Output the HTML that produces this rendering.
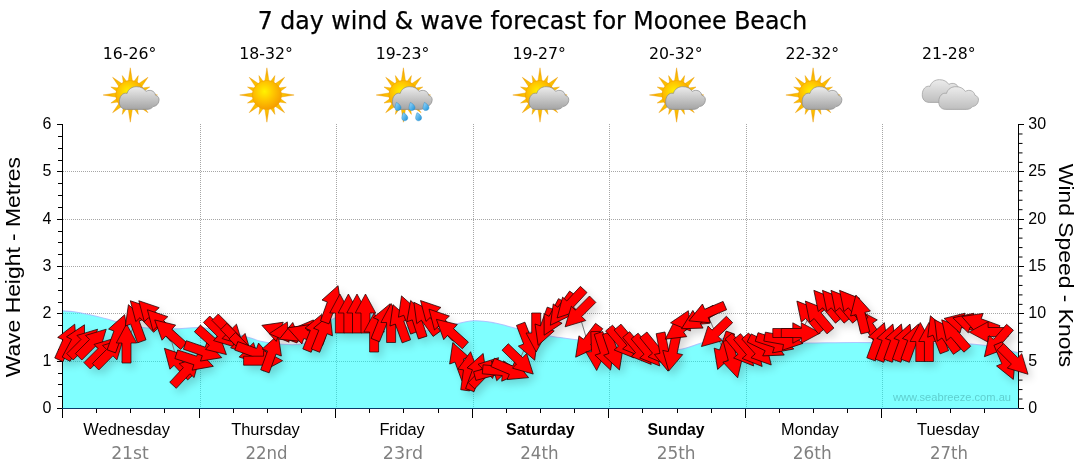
<!DOCTYPE html>
<html lang="en"><head><meta charset="utf-8"><title>7 day wind &amp; wave forecast for Moonee Beach</title>
<style>html,body{margin:0;padding:0;background:#fff;overflow:hidden}svg{display:block}.ar{font-family:"Liberation Sans",sans-serif}.vd{font-family:"DejaVu Sans","Liberation Sans",sans-serif}.vc{font-family:"DejaVu Sans Condensed","DejaVu Sans","Liberation Sans",sans-serif}</style></head><body>
<svg width="1080" height="475" viewBox="0 0 1080 475">
<defs>
<radialGradient id="gsun" cx="0.42" cy="0.38" r="0.65"><stop offset="0" stop-color="#fff200"/><stop offset="0.45" stop-color="#ffc800"/><stop offset="1" stop-color="#f59a00"/></radialGradient>
<radialGradient id="gray" cx="0.5" cy="0.5" r="0.5"><stop offset="0.3" stop-color="#ffd400"/><stop offset="1" stop-color="#f7a300"/></radialGradient>
<linearGradient id="gcl" x1="0" y1="0" x2="0" y2="1"><stop offset="0" stop-color="#ececec"/><stop offset="1" stop-color="#a4a4a4"/></linearGradient>
<linearGradient id="gcl2" x1="0" y1="0" x2="0" y2="1"><stop offset="0" stop-color="#ececec"/><stop offset="1" stop-color="#bebebe"/></linearGradient>
<linearGradient id="gdrop" x1="0" y1="0" x2="1" y2="1"><stop offset="0" stop-color="#9fdcff"/><stop offset="1" stop-color="#1a8fd6"/></linearGradient>
<filter id="sh" x="-5%" y="-20%" width="110%" height="150%"><feGaussianBlur in="SourceAlpha" stdDeviation="4"/><feOffset dx="4" dy="5" result="b"/><feComponentTransfer><feFuncA type="linear" slope="0.17"/></feComponentTransfer></filter>
<filter id="isoft" x="-10%" y="-10%" width="120%" height="120%"><feGaussianBlur stdDeviation="0.35"/></filter>
<path id="a" d="M0,-19.5 L10.2,-0.5 L4.5,-0.5 L4.5,19.5 L-4.5,19.5 L-4.5,-0.5 L-10.2,-0.5 Z"/>
<g id="sun"><path d="M-2.2,-13.3 L0.0,-27.2 L2.2,-13.3 Z M3.3,-13.1 L8.0,-19.4 L6.9,-11.6 Z M7.8,-11.0 L17.7,-17.7 L11.0,-7.8 Z M11.6,-6.9 L19.4,-8.0 L13.1,-3.3 Z M13.3,-2.2 L27.2,0.0 L13.3,2.2 Z M13.1,3.3 L19.4,8.0 L11.6,6.9 Z M11.0,7.8 L17.7,17.7 L7.8,11.0 Z M6.9,11.6 L8.0,19.4 L3.3,13.1 Z M2.2,13.3 L0.0,27.2 L-2.2,13.3 Z M-3.3,13.1 L-8.0,19.4 L-6.9,11.6 Z M-7.8,11.0 L-17.7,17.7 L-11.0,7.8 Z M-11.6,6.9 L-19.4,8.0 L-13.1,3.3 Z M-13.3,2.2 L-27.2,0.0 L-13.3,-2.2 Z M-13.1,-3.3 L-19.4,-8.0 L-11.6,-6.9 Z M-11.0,-7.8 L-17.7,-17.7 L-7.8,-11.0 Z M-6.9,-11.6 L-8.0,-19.4 L-3.3,-13.1 Z" fill="url(#gray)" stroke="#e89a00" stroke-width="0.4"/><circle r="14.6" fill="url(#gsun)" stroke="#f0a000" stroke-width="0.6"/></g>
<path id="cloud" d="M-4,14.4 C-8.5,14.4 -11.2,11 -10.9,6.5 C-11,1.5 -7.5,-2.8 -3.2,-1.6 C-2,-6 2,-8.4 6.2,-8.3 C10.5,-8.4 14,-6.4 15.6,-3.6 C19.6,-6 24.6,-4 25.2,0.2 C28,1 29.2,3.6 28.7,5.6 C28.4,9 25.6,11.4 22.8,11.6 C21.4,13.6 19,14.4 16.6,14.4 Z"/>
<path id="drop" d="M-1.6,-3.6 C0.8,-2.6 3,-0.2 3,1.6 C3,3.4 1.6,4.6 -0.2,4.6 C-2,4.6 -3.2,3.2 -3,1.4 C-2.9,-0.2 -2.2,-2 -1.6,-3.6 Z" fill="url(#gdrop)" stroke="#1b86c8" stroke-width="0.4"/>
</defs>
<rect width="1080" height="475" fill="#fff"/>
<text class="vc" x="532.6" y="28.7" font-size="25.5" text-anchor="middle" textLength="549.5" stroke="#000" stroke-width="0.25" lengthAdjust="spacingAndGlyphs" fill="#000">7 day wind &amp; wave forecast for Moonee Beach</text>
<text class="vd" x="129.5" y="58.8" font-size="15.3" text-anchor="middle" textLength="53.6" lengthAdjust="spacingAndGlyphs" fill="#000">16-26°</text>
<g transform="translate(130.3,95.0)" filter="url(#isoft)"><use href="#sun"/><use href="#cloud" fill="url(#gcl)" stroke="#8a8a8a" stroke-width="0.7"/></g>
<text class="vd" x="266.1" y="58.8" font-size="15.3" text-anchor="middle" textLength="53.6" lengthAdjust="spacingAndGlyphs" fill="#000">18-32°</text>
<g transform="translate(266.9,95.0)" filter="url(#isoft)"><use href="#sun"/></g>
<text class="vd" x="402.6" y="58.8" font-size="15.3" text-anchor="middle" textLength="53.6" lengthAdjust="spacingAndGlyphs" fill="#000">19-23°</text>
<g transform="translate(403.4,95.0)" filter="url(#isoft)"><use href="#sun"/><use href="#cloud" fill="url(#gcl)" stroke="#8a8a8a" stroke-width="0.7"/><use href="#drop" x="-5.4" y="11.0"/><use href="#drop" x="8.6" y="11.0"/><use href="#drop" x="22.6" y="11.0"/><use href="#drop" x="1.4" y="21.2"/><use href="#drop" x="15.2" y="21.2"/></g>
<text class="vd" x="539.2" y="58.8" font-size="15.3" text-anchor="middle" textLength="53.6" lengthAdjust="spacingAndGlyphs" fill="#000">19-27°</text>
<g transform="translate(540.0,95.0)" filter="url(#isoft)"><use href="#sun"/><use href="#cloud" fill="url(#gcl)" stroke="#8a8a8a" stroke-width="0.7"/></g>
<text class="vd" x="675.8" y="58.8" font-size="15.3" text-anchor="middle" textLength="53.6" lengthAdjust="spacingAndGlyphs" fill="#000">20-32°</text>
<g transform="translate(676.6,95.0)" filter="url(#isoft)"><use href="#sun"/><use href="#cloud" fill="url(#gcl)" stroke="#8a8a8a" stroke-width="0.7"/></g>
<text class="vd" x="812.3" y="58.8" font-size="15.3" text-anchor="middle" textLength="53.6" lengthAdjust="spacingAndGlyphs" fill="#000">22-32°</text>
<g transform="translate(813.1,95.0)" filter="url(#isoft)"><use href="#sun"/><use href="#cloud" fill="url(#gcl)" stroke="#8a8a8a" stroke-width="0.7"/></g>
<text class="vd" x="948.9" y="58.8" font-size="15.3" text-anchor="middle" textLength="53.6" lengthAdjust="spacingAndGlyphs" fill="#000">21-28°</text>
<g transform="translate(949.7,95.0)" filter="url(#isoft)"><use href="#cloud" x="-16.5" y="-7" fill="url(#gcl2)" stroke="#9a9a9a" stroke-width="0.7"/><use href="#cloud" fill="url(#gcl2)" stroke="#9a9a9a" stroke-width="0.7"/></g>
<g stroke="#a6a6a6" stroke-width="1" stroke-dasharray="1 1" fill="none" shape-rendering="crispEdges">
<path d="M63,361.5 H1018"/>
<path d="M63,313.5 H1018"/>
<path d="M63,266.5 H1018"/>
<path d="M63,219.5 H1018"/>
<path d="M63,171.5 H1018"/>
<path d="M200.5,124 V408"/>
<path d="M336.5,124 V408"/>
<path d="M473.5,124 V408"/>
<path d="M609.5,124 V408"/>
<path d="M746.5,124 V408"/>
<path d="M882.5,124 V408"/>
</g>
<path d="M62.5,310.8 C64.1,310.9 69.1,311.2 72.0,311.5 C74.9,311.8 76.0,312.0 80.0,312.8 C84.0,313.6 91.6,315.2 96.3,316.3 C101.0,317.4 104.0,318.2 108.0,319.3 C112.0,320.4 116.0,321.7 120.0,322.8 C124.0,323.9 127.8,325.0 132.0,325.8 C136.2,326.6 140.3,327.3 145.0,327.8 C149.7,328.3 154.8,328.6 160.0,328.8 C165.2,329.0 169.3,329.0 176.0,328.8 C182.7,328.6 192.7,327.2 200.0,327.5 C207.3,327.8 213.0,329.2 220.0,330.5 C227.0,331.8 235.0,333.7 242.0,335.5 C249.0,337.3 255.3,340.0 262.0,341.5 C268.7,343.0 275.7,343.8 282.0,344.3 C288.3,344.8 295.0,345.0 300.0,344.3 C305.0,343.6 308.3,342.4 312.0,340.0 C315.7,337.6 318.7,333.4 322.0,330.0 C325.3,326.6 328.2,322.0 332.0,319.5 C335.8,317.0 340.3,316.0 345.0,315.0 C349.7,314.0 355.7,313.7 360.0,313.5 C364.3,313.3 366.8,313.2 371.0,314.0 C375.2,314.8 380.2,316.2 385.0,318.0 C389.8,319.8 395.5,322.7 400.0,324.5 C404.5,326.3 407.8,327.9 412.0,329.0 C416.2,330.1 420.7,330.8 425.0,330.8 C429.3,330.8 433.8,329.9 438.0,329.0 C442.2,328.1 444.0,326.9 450.0,325.5 C456.0,324.1 466.5,321.2 474.0,320.8 C481.5,320.4 488.2,321.8 495.0,323.0 C501.8,324.2 507.9,326.3 514.6,328.0 C521.3,329.7 528.7,331.6 535.0,333.0 C541.3,334.4 546.2,335.5 552.5,336.5 C558.8,337.5 564.9,338.1 572.8,339.2 C580.7,340.3 590.5,341.7 600.0,343.0 C609.5,344.3 620.0,345.8 630.0,347.0 C640.0,348.2 651.5,349.6 660.0,350.0 C668.5,350.4 674.1,350.5 681.0,349.3 C687.9,348.1 694.8,344.8 701.6,343.0 C708.4,341.2 714.6,339.2 721.8,338.5 C729.0,337.8 737.0,338.5 745.0,339.0 C753.0,339.5 760.8,340.8 770.0,341.5 C779.2,342.2 785.8,342.8 800.0,343.0 C814.2,343.2 835.0,342.5 855.0,342.5 C875.0,342.5 900.2,342.7 920.0,343.0 C939.8,343.3 960.7,343.4 974.0,344.3 C987.3,345.2 992.6,347.1 1000.0,348.5 C1007.4,349.9 1015.4,352.2 1018.5,353.0 L1018.5,408.5 L62.5,408.5 Z" fill="#00ffff" fill-opacity="0.5"/>
<path d="M62.5,310.8 C64.1,310.9 69.1,311.2 72.0,311.5 C74.9,311.8 76.0,312.0 80.0,312.8 C84.0,313.6 91.6,315.2 96.3,316.3 C101.0,317.4 104.0,318.2 108.0,319.3 C112.0,320.4 116.0,321.7 120.0,322.8 C124.0,323.9 127.8,325.0 132.0,325.8 C136.2,326.6 140.3,327.3 145.0,327.8 C149.7,328.3 154.8,328.6 160.0,328.8 C165.2,329.0 169.3,329.0 176.0,328.8 C182.7,328.6 192.7,327.2 200.0,327.5 C207.3,327.8 213.0,329.2 220.0,330.5 C227.0,331.8 235.0,333.7 242.0,335.5 C249.0,337.3 255.3,340.0 262.0,341.5 C268.7,343.0 275.7,343.8 282.0,344.3 C288.3,344.8 295.0,345.0 300.0,344.3 C305.0,343.6 308.3,342.4 312.0,340.0 C315.7,337.6 318.7,333.4 322.0,330.0 C325.3,326.6 328.2,322.0 332.0,319.5 C335.8,317.0 340.3,316.0 345.0,315.0 C349.7,314.0 355.7,313.7 360.0,313.5 C364.3,313.3 366.8,313.2 371.0,314.0 C375.2,314.8 380.2,316.2 385.0,318.0 C389.8,319.8 395.5,322.7 400.0,324.5 C404.5,326.3 407.8,327.9 412.0,329.0 C416.2,330.1 420.7,330.8 425.0,330.8 C429.3,330.8 433.8,329.9 438.0,329.0 C442.2,328.1 444.0,326.9 450.0,325.5 C456.0,324.1 466.5,321.2 474.0,320.8 C481.5,320.4 488.2,321.8 495.0,323.0 C501.8,324.2 507.9,326.3 514.6,328.0 C521.3,329.7 528.7,331.6 535.0,333.0 C541.3,334.4 546.2,335.5 552.5,336.5 C558.8,337.5 564.9,338.1 572.8,339.2 C580.7,340.3 590.5,341.7 600.0,343.0 C609.5,344.3 620.0,345.8 630.0,347.0 C640.0,348.2 651.5,349.6 660.0,350.0 C668.5,350.4 674.1,350.5 681.0,349.3 C687.9,348.1 694.8,344.8 701.6,343.0 C708.4,341.2 714.6,339.2 721.8,338.5 C729.0,337.8 737.0,338.5 745.0,339.0 C753.0,339.5 760.8,340.8 770.0,341.5 C779.2,342.2 785.8,342.8 800.0,343.0 C814.2,343.2 835.0,342.5 855.0,342.5 C875.0,342.5 900.2,342.7 920.0,343.0 C939.8,343.3 960.7,343.4 974.0,344.3 C987.3,345.2 992.6,347.1 1000.0,348.5 C1007.4,349.9 1015.4,352.2 1018.5,353.0" fill="none" stroke="#a9b6ff" stroke-width="1.1" stroke-opacity="0.8"/>
<text class="ar" x="952" y="400.6" font-size="11" text-anchor="middle" textLength="118" lengthAdjust="spacingAndGlyphs" fill="#5fcfcf">www.seabreeze.com.au</text>
<g stroke="#000" stroke-width="1" fill="none" shape-rendering="crispEdges">
<path d="M62.5,124 V417"/>
<path d="M1018.5,124 V409"/>
<path d="M57,408.5 H63"/>
<path d="M58,396.5 H63"/>
<path d="M58,384.5 H63"/>
<path d="M58,373.5 H63"/>
<path d="M57,361.5 H63"/>
<path d="M58,349.5 H63"/>
<path d="M58,337.5 H63"/>
<path d="M58,325.5 H63"/>
<path d="M57,313.5 H63"/>
<path d="M58,302.5 H63"/>
<path d="M58,290.5 H63"/>
<path d="M58,278.5 H63"/>
<path d="M57,266.5 H63"/>
<path d="M58,254.5 H63"/>
<path d="M58,242.5 H63"/>
<path d="M58,231.5 H63"/>
<path d="M57,219.5 H63"/>
<path d="M58,207.5 H63"/>
<path d="M58,195.5 H63"/>
<path d="M58,183.5 H63"/>
<path d="M57,171.5 H63"/>
<path d="M58,160.5 H63"/>
<path d="M58,148.5 H63"/>
<path d="M58,136.5 H63"/>
<path d="M57,124.5 H63"/>
<path d="M1018,408.5 H1024"/>
<path d="M1018,361.5 H1024"/>
<path d="M1018,313.5 H1024"/>
<path d="M1018,266.5 H1024"/>
<path d="M1018,219.5 H1024"/>
<path d="M1018,171.5 H1024"/>
<path d="M1018,124.5 H1024"/>
</g>
<g stroke="#000" stroke-width="1" fill="none">
<path d="M1018,399.03 H1022.5"/>
<path d="M1018,389.57 H1022.5"/>
<path d="M1018,380.10 H1022.5"/>
<path d="M1018,370.63 H1022.5"/>
<path d="M1018,351.70 H1022.5"/>
<path d="M1018,342.23 H1022.5"/>
<path d="M1018,332.77 H1022.5"/>
<path d="M1018,323.30 H1022.5"/>
<path d="M1018,304.37 H1022.5"/>
<path d="M1018,294.90 H1022.5"/>
<path d="M1018,285.43 H1022.5"/>
<path d="M1018,275.97 H1022.5"/>
<path d="M1018,257.03 H1022.5"/>
<path d="M1018,247.57 H1022.5"/>
<path d="M1018,238.10 H1022.5"/>
<path d="M1018,228.63 H1022.5"/>
<path d="M1018,209.70 H1022.5"/>
<path d="M1018,200.23 H1022.5"/>
<path d="M1018,190.77 H1022.5"/>
<path d="M1018,181.30 H1022.5"/>
<path d="M1018,162.37 H1022.5"/>
<path d="M1018,152.90 H1022.5"/>
<path d="M1018,143.43 H1022.5"/>
<path d="M1018,133.97 H1022.5"/>
</g>
<path d="M62,408.5 H1019" stroke="#0b3b6b" stroke-width="1" shape-rendering="crispEdges"/>
<g stroke="#000" stroke-width="1" fill="none" shape-rendering="crispEdges">
<path d="M62.5,409 V418"/>
<path d="M96.5,409 V413"/>
<path d="M130.5,409 V413"/>
<path d="M164.5,409 V413"/>
<path d="M199.5,409 V418"/>
<path d="M233.5,409 V413"/>
<path d="M267.5,409 V413"/>
<path d="M301.5,409 V413"/>
<path d="M335.5,409 V418"/>
<path d="M369.5,409 V413"/>
<path d="M403.5,409 V413"/>
<path d="M438.5,409 V413"/>
<path d="M472.5,409 V418"/>
<path d="M506.5,409 V413"/>
<path d="M540.5,409 V413"/>
<path d="M574.5,409 V413"/>
<path d="M608.5,409 V418"/>
<path d="M642.5,409 V413"/>
<path d="M677.5,409 V413"/>
<path d="M711.5,409 V413"/>
<path d="M745.5,409 V418"/>
<path d="M779.5,409 V413"/>
<path d="M813.5,409 V413"/>
<path d="M847.5,409 V413"/>
<path d="M881.5,409 V418"/>
<path d="M916.5,409 V413"/>
<path d="M950.5,409 V413"/>
<path d="M984.5,409 V413"/>
</g>
<g class="ar" font-size="16" fill="#000">
<text x="51.3" y="412.8" text-anchor="end">0</text>
<text x="51.3" y="365.5" text-anchor="end">1</text>
<text x="51.3" y="318.1" text-anchor="end">2</text>
<text x="51.3" y="270.8" text-anchor="end">3</text>
<text x="51.3" y="223.5" text-anchor="end">4</text>
<text x="51.3" y="176.1" text-anchor="end">5</text>
<text x="51.3" y="128.8" text-anchor="end">6</text>
<text x="1028.3" y="412.8">0</text>
<text x="1028.3" y="365.5">5</text>
<text x="1028.3" y="318.1">10</text>
<text x="1028.3" y="270.8">15</text>
<text x="1028.3" y="223.5">20</text>
<text x="1028.3" y="176.1">25</text>
<text x="1028.3" y="128.8">30</text>
</g>
<text class="ar" font-size="21" fill="#000" text-anchor="middle" transform="translate(20.2,267.2) rotate(-90)" textLength="220.3" lengthAdjust="spacingAndGlyphs">Wave Height - Metres</text>
<text class="ar" font-size="21" fill="#000" text-anchor="middle" transform="translate(1059.2,265.5) rotate(90)" textLength="203.3" lengthAdjust="spacingAndGlyphs">Wind Speed - Knots</text>
<text class="ar" x="126.6" y="434.7" font-size="16" text-anchor="middle" textLength="86.5" lengthAdjust="spacingAndGlyphs" fill="#000">Wednesday</text>
<text class="vd" x="130.0" y="458.8" font-size="17.2" text-anchor="middle" textLength="37.7" lengthAdjust="spacingAndGlyphs" fill="#808080">21st</text>
<text class="ar" x="265.5" y="434.7" font-size="16" text-anchor="middle" textLength="68.7" lengthAdjust="spacingAndGlyphs" fill="#000">Thursday</text>
<text class="vd" x="266.5" y="458.8" font-size="17.2" text-anchor="middle" textLength="42.2" lengthAdjust="spacingAndGlyphs" fill="#808080">22nd</text>
<text class="ar" x="402.1" y="434.7" font-size="16" text-anchor="middle" textLength="45.4" lengthAdjust="spacingAndGlyphs" fill="#000">Friday</text>
<text class="vd" x="402.9" y="458.8" font-size="17.2" text-anchor="middle" textLength="40.2" lengthAdjust="spacingAndGlyphs" fill="#808080">23rd</text>
<text class="ar" x="540.3" y="434.7" font-size="16" text-anchor="middle" textLength="68.7" lengthAdjust="spacingAndGlyphs" fill="#000" font-weight="bold">Saturday</text>
<text class="vd" x="539.4" y="458.8" font-size="17.2" text-anchor="middle" textLength="38.4" lengthAdjust="spacingAndGlyphs" fill="#808080">24th</text>
<text class="ar" x="676.1" y="434.7" font-size="16" text-anchor="middle" textLength="57.0" lengthAdjust="spacingAndGlyphs" fill="#000" font-weight="bold">Sunday</text>
<text class="vd" x="676.1" y="458.8" font-size="17.2" text-anchor="middle" textLength="38.9" lengthAdjust="spacingAndGlyphs" fill="#808080">25th</text>
<text class="ar" x="810.0" y="434.7" font-size="16" text-anchor="middle" textLength="57.8" lengthAdjust="spacingAndGlyphs" fill="#000">Monday</text>
<text class="vd" x="812.2" y="458.8" font-size="17.2" text-anchor="middle" textLength="38.9" lengthAdjust="spacingAndGlyphs" fill="#808080">26th</text>
<text class="ar" x="948.2" y="434.7" font-size="16" text-anchor="middle" textLength="62.4" lengthAdjust="spacingAndGlyphs" fill="#000">Tuesday</text>
<text class="vd" x="949.0" y="458.8" font-size="17.2" text-anchor="middle" textLength="38.0" lengthAdjust="spacingAndGlyphs" fill="#808080">27th</text>
<polyline points="66.8,342.0 75.3,342.0 83.8,343.0 92.4,343.0 100.9,352.0 109.4,353.0 118.0,333.0 126.5,343.5 135.1,323.0 143.6,315.0 152.1,315.0 160.7,324.0 169.2,333.0 177.7,362.6 186.3,371.0 194.8,360.3 203.3,351.3 211.9,341.5 220.4,333.0 228.9,331.0 237.5,340.3 246.0,349.5 254.6,352.5 263.1,360.7 271.6,353.0 280.2,332.0 288.7,332.0 297.2,331.7 305.8,334.5 314.3,332.5 322.8,332.5 331.4,304.0 339.9,313.5 348.4,313.5 357.0,313.5 365.5,313.5 374.1,332.5 382.6,322.0 391.1,323.0 399.7,323.0 408.2,314.2 416.7,319.0 425.3,318.0 433.8,314.8 442.3,323.4 450.9,332.4 459.4,361.0 467.9,371.0 476.5,371.8 485.0,371.7 493.6,371.0 502.1,371.0 510.6,370.0 519.2,360.5 527.7,342.0 536.2,332.5 544.8,327.0 553.3,318.0 561.8,309.5 570.4,303.7 578.9,313.0 587.4,341.6 596.0,351.0 604.5,351.5 613.1,351.5 621.6,343.0 630.1,342.0 638.7,349.5 647.2,351.0 655.7,350.0 664.3,352.0 672.8,352.0 681.3,328.0 689.9,320.8 698.4,319.0 706.9,313.2 715.5,333.0 724.0,351.0 732.6,359.0 741.1,351.0 749.6,351.5 758.2,350.5 766.7,346.5 775.2,343.0 783.8,340.0 792.3,333.0 800.8,333.0 809.4,316.0 817.9,316.0 826.4,305.3 835.0,305.3 843.5,305.3 852.1,305.3 860.6,314.0 869.1,326.0 877.7,341.0 886.2,342.4 894.7,342.4 903.3,342.4 911.8,342.4 920.3,342.0 928.9,342.0 937.4,334.0 945.9,335.8 954.5,334.5 963.0,323.2 971.6,323.2 980.1,323.2 988.6,332.0 997.2,342.0 1005.7,361.5 1014.2,360.5" fill="none" stroke="#808080" stroke-width="1"/>
<g filter="url(#sh)"><use href="#a" transform="translate(66.8,342.0) rotate(24)"/><use href="#a" transform="translate(75.3,342.0) rotate(28)"/><use href="#a" transform="translate(83.8,343.0) rotate(45)"/><use href="#a" transform="translate(92.4,343.0) rotate(45)"/><use href="#a" transform="translate(100.9,352.0) rotate(45)"/><use href="#a" transform="translate(109.4,353.0) rotate(45)"/><use href="#a" transform="translate(118.0,333.0) rotate(20)"/><use href="#a" transform="translate(126.5,343.5) rotate(0)"/><use href="#a" transform="translate(135.1,323.0) rotate(-20)"/><use href="#a" transform="translate(143.6,315.0) rotate(-43)"/><use href="#a" transform="translate(152.1,315.0) rotate(-43)"/><use href="#a" transform="translate(160.7,324.0) rotate(-43)"/><use href="#a" transform="translate(169.2,333.0) rotate(-48)"/><use href="#a" transform="translate(177.7,362.6) rotate(-43)"/><use href="#a" transform="translate(186.3,371.0) rotate(43)"/><use href="#a" transform="translate(194.8,360.3) rotate(108)"/><use href="#a" transform="translate(203.3,351.3) rotate(109)"/><use href="#a" transform="translate(211.9,341.5) rotate(132)"/><use href="#a" transform="translate(220.4,333.0) rotate(135)"/><use href="#a" transform="translate(228.9,331.0) rotate(135)"/><use href="#a" transform="translate(237.5,340.3) rotate(135)"/><use href="#a" transform="translate(246.0,349.5) rotate(135)"/><use href="#a" transform="translate(254.6,352.5) rotate(110)"/><use href="#a" transform="translate(263.1,360.7) rotate(90)"/><use href="#a" transform="translate(271.6,353.0) rotate(20)"/><use href="#a" transform="translate(280.2,332.0) rotate(-70)"/><use href="#a" transform="translate(288.7,332.0) rotate(-95)"/><use href="#a" transform="translate(297.2,331.7) rotate(-113)"/><use href="#a" transform="translate(305.8,334.5) rotate(-70)"/><use href="#a" transform="translate(314.3,332.5) rotate(22)"/><use href="#a" transform="translate(322.8,332.5) rotate(22)"/><use href="#a" transform="translate(331.4,304.0) rotate(20)"/><use href="#a" transform="translate(339.9,313.5) rotate(0)"/><use href="#a" transform="translate(348.4,313.5) rotate(0)"/><use href="#a" transform="translate(357.0,313.5) rotate(0)"/><use href="#a" transform="translate(365.5,313.5) rotate(0)"/><use href="#a" transform="translate(374.1,332.5) rotate(0)"/><use href="#a" transform="translate(382.6,322.0) rotate(22)"/><use href="#a" transform="translate(391.1,323.0) rotate(0)"/><use href="#a" transform="translate(399.7,323.0) rotate(-20)"/><use href="#a" transform="translate(408.2,314.2) rotate(-20)"/><use href="#a" transform="translate(416.7,319.0) rotate(-18)"/><use href="#a" transform="translate(425.3,318.0) rotate(-36)"/><use href="#a" transform="translate(433.8,314.8) rotate(-43)"/><use href="#a" transform="translate(442.3,323.4) rotate(-43)"/><use href="#a" transform="translate(459.4,361.0) rotate(-20)"/><use href="#a" transform="translate(450.9,332.4) rotate(-48)"/><use href="#a" transform="translate(467.9,371.0) rotate(8)"/><use href="#a" transform="translate(476.5,371.8) rotate(20)"/><use href="#a" transform="translate(485.0,371.7) rotate(44)"/><use href="#a" transform="translate(493.6,371.0) rotate(75)"/><use href="#a" transform="translate(502.1,371.0) rotate(95)"/><use href="#a" transform="translate(510.6,370.0) rotate(113)"/><use href="#a" transform="translate(519.2,360.5) rotate(134)"/><use href="#a" transform="translate(527.7,342.0) rotate(159)"/><use href="#a" transform="translate(536.2,332.5) rotate(180)"/><use href="#a" transform="translate(544.8,327.0) rotate(200)"/><use href="#a" transform="translate(553.3,318.0) rotate(208)"/><use href="#a" transform="translate(561.8,309.5) rotate(216)"/><use href="#a" transform="translate(570.4,303.7) rotate(223)"/><use href="#a" transform="translate(578.9,313.0) rotate(225)"/><use href="#a" transform="translate(587.4,341.6) rotate(217)"/><use href="#a" transform="translate(596.0,351.0) rotate(178)"/><use href="#a" transform="translate(604.5,351.5) rotate(162)"/><use href="#a" transform="translate(613.1,351.5) rotate(161)"/><use href="#a" transform="translate(621.6,343.0) rotate(140)"/><use href="#a" transform="translate(630.1,342.0) rotate(140)"/><use href="#a" transform="translate(638.7,349.5) rotate(140)"/><use href="#a" transform="translate(647.2,351.0) rotate(140)"/><use href="#a" transform="translate(655.7,350.0) rotate(141)"/><use href="#a" transform="translate(664.3,352.0) rotate(169)"/><use href="#a" transform="translate(672.8,352.0) rotate(192)"/><use href="#a" transform="translate(681.3,328.0) rotate(235)"/><use href="#a" transform="translate(689.9,320.8) rotate(264)"/><use href="#a" transform="translate(698.4,319.0) rotate(240)"/><use href="#a" transform="translate(706.9,313.2) rotate(247)"/><use href="#a" transform="translate(715.5,333.0) rotate(226)"/><use href="#a" transform="translate(724.0,351.0) rotate(199)"/><use href="#a" transform="translate(732.6,359.0) rotate(165)"/><use href="#a" transform="translate(741.1,351.0) rotate(140)"/><use href="#a" transform="translate(749.6,351.5) rotate(140)"/><use href="#a" transform="translate(758.2,350.5) rotate(138)"/><use href="#a" transform="translate(766.7,346.5) rotate(116)"/><use href="#a" transform="translate(775.2,343.0) rotate(108)"/><use href="#a" transform="translate(783.8,340.0) rotate(100)"/><use href="#a" transform="translate(792.3,333.0) rotate(90)"/><use href="#a" transform="translate(800.8,333.0) rotate(90)"/><use href="#a" transform="translate(809.4,316.0) rotate(-40)"/><use href="#a" transform="translate(817.9,316.0) rotate(-40)"/><use href="#a" transform="translate(826.4,305.3) rotate(-40)"/><use href="#a" transform="translate(835.0,305.3) rotate(-40)"/><use href="#a" transform="translate(843.5,305.3) rotate(-40)"/><use href="#a" transform="translate(869.1,326.0) rotate(-34)"/><use href="#a" transform="translate(852.1,305.3) rotate(-40)"/><use href="#a" transform="translate(860.6,314.0) rotate(-14)"/><use href="#a" transform="translate(877.7,341.0) rotate(20)"/><use href="#a" transform="translate(886.2,342.4) rotate(20)"/><use href="#a" transform="translate(894.7,342.4) rotate(20)"/><use href="#a" transform="translate(903.3,342.4) rotate(20)"/><use href="#a" transform="translate(911.8,342.4) rotate(20)"/><use href="#a" transform="translate(920.3,342.0) rotate(0)"/><use href="#a" transform="translate(928.9,342.0) rotate(0)"/><use href="#a" transform="translate(937.4,334.0) rotate(-21)"/><use href="#a" transform="translate(945.9,335.8) rotate(-35)"/><use href="#a" transform="translate(954.5,334.5) rotate(-41)"/><use href="#a" transform="translate(963.0,323.2) rotate(-76)"/><use href="#a" transform="translate(971.6,323.2) rotate(-74)"/><use href="#a" transform="translate(980.1,323.2) rotate(-70)"/><use href="#a" transform="translate(988.6,332.0) rotate(-90)"/><use href="#a" transform="translate(997.2,342.0) rotate(221)"/><use href="#a" transform="translate(1005.7,361.5) rotate(157)"/><use href="#a" transform="translate(1014.2,360.5) rotate(135)"/></g>
<g fill="#ff0000" stroke="#1c0000" stroke-width="0.7" stroke-linejoin="miter"><use href="#a" transform="translate(66.8,342.0) rotate(24)"/><use href="#a" transform="translate(75.3,342.0) rotate(28)"/><use href="#a" transform="translate(83.8,343.0) rotate(45)"/><use href="#a" transform="translate(92.4,343.0) rotate(45)"/><use href="#a" transform="translate(100.9,352.0) rotate(45)"/><use href="#a" transform="translate(109.4,353.0) rotate(45)"/><use href="#a" transform="translate(118.0,333.0) rotate(20)"/><use href="#a" transform="translate(126.5,343.5) rotate(0)"/><use href="#a" transform="translate(135.1,323.0) rotate(-20)"/><use href="#a" transform="translate(143.6,315.0) rotate(-43)"/><use href="#a" transform="translate(152.1,315.0) rotate(-43)"/><use href="#a" transform="translate(160.7,324.0) rotate(-43)"/><use href="#a" transform="translate(169.2,333.0) rotate(-48)"/><use href="#a" transform="translate(177.7,362.6) rotate(-43)"/><use href="#a" transform="translate(186.3,371.0) rotate(43)"/><use href="#a" transform="translate(194.8,360.3) rotate(108)"/><use href="#a" transform="translate(203.3,351.3) rotate(109)"/><use href="#a" transform="translate(211.9,341.5) rotate(132)"/><use href="#a" transform="translate(220.4,333.0) rotate(135)"/><use href="#a" transform="translate(228.9,331.0) rotate(135)"/><use href="#a" transform="translate(237.5,340.3) rotate(135)"/><use href="#a" transform="translate(246.0,349.5) rotate(135)"/><use href="#a" transform="translate(254.6,352.5) rotate(110)"/><use href="#a" transform="translate(263.1,360.7) rotate(90)"/><use href="#a" transform="translate(271.6,353.0) rotate(20)"/><use href="#a" transform="translate(280.2,332.0) rotate(-70)"/><use href="#a" transform="translate(288.7,332.0) rotate(-95)"/><use href="#a" transform="translate(297.2,331.7) rotate(-113)"/><use href="#a" transform="translate(305.8,334.5) rotate(-70)"/><use href="#a" transform="translate(314.3,332.5) rotate(22)"/><use href="#a" transform="translate(322.8,332.5) rotate(22)"/><use href="#a" transform="translate(331.4,304.0) rotate(20)"/><use href="#a" transform="translate(339.9,313.5) rotate(0)"/><use href="#a" transform="translate(348.4,313.5) rotate(0)"/><use href="#a" transform="translate(357.0,313.5) rotate(0)"/><use href="#a" transform="translate(365.5,313.5) rotate(0)"/><use href="#a" transform="translate(374.1,332.5) rotate(0)"/><use href="#a" transform="translate(382.6,322.0) rotate(22)"/><use href="#a" transform="translate(391.1,323.0) rotate(0)"/><use href="#a" transform="translate(399.7,323.0) rotate(-20)"/><use href="#a" transform="translate(408.2,314.2) rotate(-20)"/><use href="#a" transform="translate(416.7,319.0) rotate(-18)"/><use href="#a" transform="translate(425.3,318.0) rotate(-36)"/><use href="#a" transform="translate(433.8,314.8) rotate(-43)"/><use href="#a" transform="translate(442.3,323.4) rotate(-43)"/><use href="#a" transform="translate(459.4,361.0) rotate(-20)"/><use href="#a" transform="translate(450.9,332.4) rotate(-48)"/><use href="#a" transform="translate(467.9,371.0) rotate(8)"/><use href="#a" transform="translate(476.5,371.8) rotate(20)"/><use href="#a" transform="translate(485.0,371.7) rotate(44)"/><use href="#a" transform="translate(493.6,371.0) rotate(75)"/><use href="#a" transform="translate(502.1,371.0) rotate(95)"/><use href="#a" transform="translate(510.6,370.0) rotate(113)"/><use href="#a" transform="translate(519.2,360.5) rotate(134)"/><use href="#a" transform="translate(527.7,342.0) rotate(159)"/><use href="#a" transform="translate(536.2,332.5) rotate(180)"/><use href="#a" transform="translate(544.8,327.0) rotate(200)"/><use href="#a" transform="translate(553.3,318.0) rotate(208)"/><use href="#a" transform="translate(561.8,309.5) rotate(216)"/><use href="#a" transform="translate(570.4,303.7) rotate(223)"/><use href="#a" transform="translate(578.9,313.0) rotate(225)"/><use href="#a" transform="translate(587.4,341.6) rotate(217)"/><use href="#a" transform="translate(596.0,351.0) rotate(178)"/><use href="#a" transform="translate(604.5,351.5) rotate(162)"/><use href="#a" transform="translate(613.1,351.5) rotate(161)"/><use href="#a" transform="translate(621.6,343.0) rotate(140)"/><use href="#a" transform="translate(630.1,342.0) rotate(140)"/><use href="#a" transform="translate(638.7,349.5) rotate(140)"/><use href="#a" transform="translate(647.2,351.0) rotate(140)"/><use href="#a" transform="translate(655.7,350.0) rotate(141)"/><use href="#a" transform="translate(664.3,352.0) rotate(169)"/><use href="#a" transform="translate(672.8,352.0) rotate(192)"/><use href="#a" transform="translate(681.3,328.0) rotate(235)"/><use href="#a" transform="translate(689.9,320.8) rotate(264)"/><use href="#a" transform="translate(698.4,319.0) rotate(240)"/><use href="#a" transform="translate(706.9,313.2) rotate(247)"/><use href="#a" transform="translate(715.5,333.0) rotate(226)"/><use href="#a" transform="translate(724.0,351.0) rotate(199)"/><use href="#a" transform="translate(732.6,359.0) rotate(165)"/><use href="#a" transform="translate(741.1,351.0) rotate(140)"/><use href="#a" transform="translate(749.6,351.5) rotate(140)"/><use href="#a" transform="translate(758.2,350.5) rotate(138)"/><use href="#a" transform="translate(766.7,346.5) rotate(116)"/><use href="#a" transform="translate(775.2,343.0) rotate(108)"/><use href="#a" transform="translate(783.8,340.0) rotate(100)"/><use href="#a" transform="translate(792.3,333.0) rotate(90)"/><use href="#a" transform="translate(800.8,333.0) rotate(90)"/><use href="#a" transform="translate(809.4,316.0) rotate(-40)"/><use href="#a" transform="translate(817.9,316.0) rotate(-40)"/><use href="#a" transform="translate(826.4,305.3) rotate(-40)"/><use href="#a" transform="translate(835.0,305.3) rotate(-40)"/><use href="#a" transform="translate(843.5,305.3) rotate(-40)"/><use href="#a" transform="translate(869.1,326.0) rotate(-34)"/><use href="#a" transform="translate(852.1,305.3) rotate(-40)"/><use href="#a" transform="translate(860.6,314.0) rotate(-14)"/><use href="#a" transform="translate(877.7,341.0) rotate(20)"/><use href="#a" transform="translate(886.2,342.4) rotate(20)"/><use href="#a" transform="translate(894.7,342.4) rotate(20)"/><use href="#a" transform="translate(903.3,342.4) rotate(20)"/><use href="#a" transform="translate(911.8,342.4) rotate(20)"/><use href="#a" transform="translate(920.3,342.0) rotate(0)"/><use href="#a" transform="translate(928.9,342.0) rotate(0)"/><use href="#a" transform="translate(937.4,334.0) rotate(-21)"/><use href="#a" transform="translate(945.9,335.8) rotate(-35)"/><use href="#a" transform="translate(954.5,334.5) rotate(-41)"/><use href="#a" transform="translate(963.0,323.2) rotate(-76)"/><use href="#a" transform="translate(971.6,323.2) rotate(-74)"/><use href="#a" transform="translate(980.1,323.2) rotate(-70)"/><use href="#a" transform="translate(988.6,332.0) rotate(-90)"/><use href="#a" transform="translate(997.2,342.0) rotate(221)"/><use href="#a" transform="translate(1005.7,361.5) rotate(157)"/><use href="#a" transform="translate(1014.2,360.5) rotate(135)"/></g>
</svg></body></html>
